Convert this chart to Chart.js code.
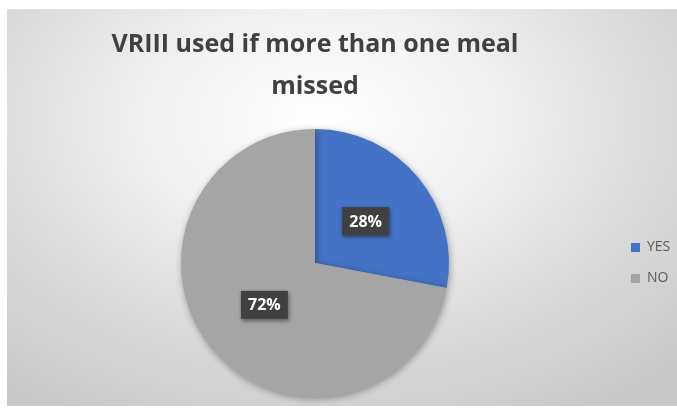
<!DOCTYPE html>
<html>
<head>
<meta charset="utf-8">
<script src="https://cdn.jsdelivr.net/npm/chart.js@4/dist/chart.umd.min.js"></script>
<style>
  html, body { margin: 0; padding: 0; background: #fff; }
  #box {
    position: absolute; left: 7px; top: 9px; width: 670px; height: 397px;
    background: radial-gradient(ellipse 75% 85% at 47% 28%, #ffffff 0%, #f3f3f3 30%, #dcdcdc 65%, #c8c8c8 100%);
  }
  canvas { display: block; }
</style>
</head>
<body>
<div id="box"><canvas id="pieChart" width="670" height="397"></canvas></div>
<script>
const categories = ["YES", "NO"];
const values = [28, 72];
const sliceColors = ["#4472C4", "#A5A5A5"];
const titleLines = ["VRIII used if more than one meal", "missed"];

// soft shadow under the pie, like the office style
const pieShadow = {
  id: "pieShadow",
  beforeDatasetDraw(chart) {
    const ctx = chart.ctx;
    ctx.save();
    ctx.shadowColor = "rgba(0,0,0,0.35)";
    ctx.shadowBlur = 7;
    ctx.shadowOffsetX = 1;
    ctx.shadowOffsetY = 2;
  },
  afterDatasetDraw(chart) {
    chart.ctx.restore();
  }
};

// dark boxes with percentages
const boxLabels = {
  id: "boxLabels",
  afterDatasetsDraw(chart) {
    const ctx = chart.ctx;
    const total = values.reduce((a, b) => a + b, 0);
    chart.getDatasetMeta(0).data.forEach((arc, i) => {
      const p = arc.getProps(["x", "y", "startAngle", "endAngle", "outerRadius"], true);
      const mid = (p.startAngle + p.endAngle) / 2;
      const r = p.outerRadius * 0.49;
      const cx = p.x + Math.cos(mid) * r;
      const cy = p.y + Math.sin(mid) * r;
      const txt = Math.round(values[i] / total * 100) + "%";
      ctx.save();
      ctx.shadowColor = "rgba(0,0,0,0.45)";
      ctx.shadowBlur = 4;
      ctx.shadowOffsetX = 1;
      ctx.shadowOffsetY = 2;
      ctx.fillStyle = "#404040";
      ctx.fillRect(cx - 23.5, cy - 14, 47, 28);
      ctx.restore();
      ctx.save();
      ctx.fillStyle = "#ffffff";
      ctx.font = "bold 16px 'Open Sans'";
      ctx.textAlign = "center";
      ctx.textBaseline = "middle";
      ctx.fillText(txt, cx, cy + 1);
      ctx.restore();
    });
  }
};

new Chart(document.getElementById("pieChart"), {
  type: "pie",
  data: {
    labels: categories,
    datasets: [{
      data: values,
      backgroundColor: sliceColors,
      borderWidth: 0
    }]
  },
  options: {
    responsive: false,
    animation: false,
    devicePixelRatio: 1,
    layout: { padding: { left: 9, right: 0, top: 0, bottom: 9 } },
    plugins: {
      title: {
        display: true,
        fullSize: false,
        text: titleLines,
        color: "#404040",
        font: { family: "'Open Sans'", size: 25, weight: "bold", lineHeight: 1.68 },
        padding: { top: 15, bottom: 21 }
      },
      legend: {
        position: "right",
        fullSize: false,
        maxWidth: 63,
        labels: {
          boxWidth: 9,
          boxHeight: 9,
          padding: 17,
          color: "#595959",
          font: { family: "'Open Sans'", size: 14 }
        }
      },
      tooltip: { enabled: false }
    }
  },
  plugins: [pieShadow, boxLabels]
});
</script>
</body>
</html>
